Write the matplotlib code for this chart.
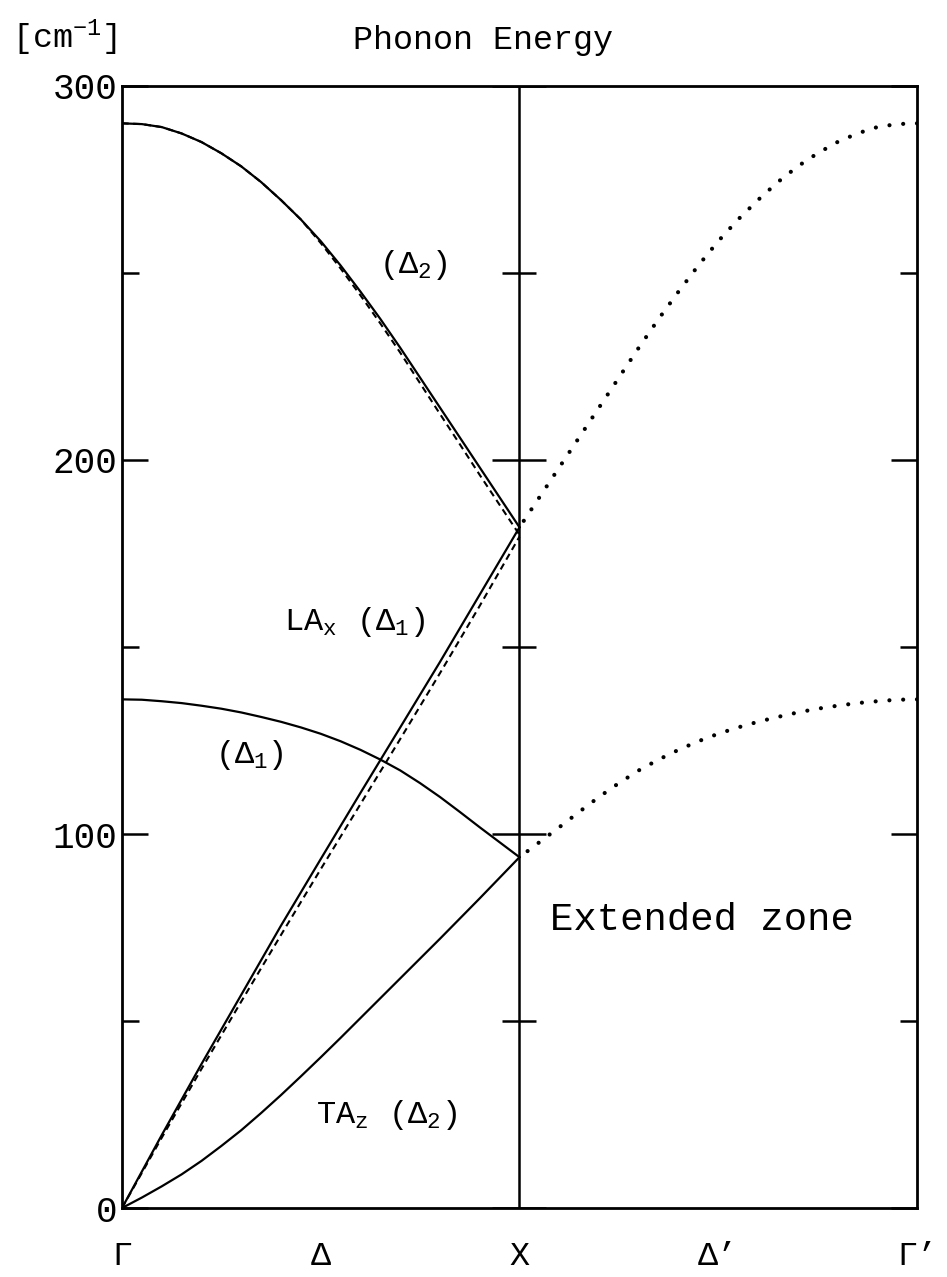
import matplotlib
matplotlib.use("Agg")
import matplotlib.pyplot as plt
import numpy as np

plt.rcParams['font.family'] = ['Liberation Mono', 'DejaVu Sans Mono']
plt.rcParams['mathtext.default'] = 'regular'

# reduced wave vector along Gamma -> X (0 .. 1)
q_fine = [0.0, 0.05, 0.1, 0.15, 0.2, 0.25, 0.3, 0.35, 0.4, 0.45, 0.5,
          0.55, 0.6, 0.65, 0.7, 0.75, 0.8, 0.85, 0.9, 0.95, 1.0]
q_coarse = [0.0, 0.1, 0.2, 0.3, 0.4, 0.5, 0.6, 0.7, 0.8, 0.9, 1.0]

# phonon energies in cm^-1
opt_d2 = [290, 289.8, 289, 287.3, 285, 282, 278.5, 274.3, 269.5, 264.3, 258.5,
          252, 245, 237.7, 230, 222, 214, 206, 198, 190, 182]
opt_d2_calc = [290, 289.8, 289, 287.3, 285, 282, 278.5, 274.3, 269.5, 264.3, 258,
               251.2, 244, 236.5, 228.7, 220.5, 212.3, 204.2, 196, 188, 180]
opt_d1 = [136, 135.9, 135.5, 135, 134.3, 133.5, 132.5, 131.3, 130, 128.5, 126.8,
          124.8, 122.5, 119.9, 117, 113.6, 109.9, 105.9, 101.8, 97.8, 93.8]
ta_z = [0, 2.8, 5.8, 9, 12.6, 16.6, 20.8, 25.4, 30.2, 35.2, 40.3,
        45.5, 50.8, 56.1, 61.4, 66.7, 72, 77.4, 82.8, 88.3, 93.8]
la_x = [0, 19.5, 38.5, 57, 75.5, 93.3, 111, 128.5, 146, 164, 182]
la_x_calc = [0, 18.8, 37.2, 55.2, 73, 90.6, 108, 125.4, 143, 161, 179.5]

xtick_pos = [0, 0.5, 1, 1.5, 2]
xtick_labels = ['Γ', 'Δ', 'X', 'Δ’', 'Γ’']
ytick_major = [0, 100, 200, 300]
ytick_minor = [50, 150, 250]

fig = plt.figure(figsize=(9.47, 12.77), dpi=100)
ax = fig.add_axes([0.1288, 0.054, 0.8395, 0.8787])

lw = 1.6
q = np.array(q_fine)
qc = np.array(q_coarse)
ax.plot(q, opt_d2, color='black', lw=lw)
ax.plot(q, opt_d2_calc, color='black', lw=1.5, dashes=(3.2, 2.2))
ax.plot(q, opt_d1, color='black', lw=lw)
ax.plot(q, ta_z, color='black', lw=lw)
ax.plot(qc, la_x, color='black', lw=lw)
ax.plot(qc, la_x_calc, color='black', lw=1.5, dashes=(3.2, 2.2))

# extended zone: branches folded back out from X to Gamma'
dot_kw = dict(color='black', lw=3.0, dashes=(0.01, 3.3), dash_capstyle='round')
ax.plot(2 - q, opt_d2, **dot_kw)
ax.plot(2 - q, opt_d1, **dot_kw)

# zone boundary line with its own ticks
ax.axvline(1, color='black', lw=1.8)
ax.plot([1] * len(ytick_major), ytick_major, ls='none', marker='_',
        markersize=39, mew=1.8, color='black')
ax.plot([1] * len(ytick_minor), ytick_minor, ls='none', marker='_',
        markersize=24, mew=1.8, color='black')

ax.set_xlim(0, 2)
ax.set_ylim(0, 300)
ax.set_xticks(xtick_pos)
ax.set_xticklabels(xtick_labels)
ax.set_yticks(ytick_major)
ax.set_yticks(ytick_minor, minor=True)
ax.tick_params(axis='x', length=0, pad=24, labelsize=24)
ax.tick_params(axis='y', which='both', direction='in', left=True, right=True,
               width=1.8, labelsize=26, pad=3)
ax.tick_params(axis='y', which='major', length=19)
ax.tick_params(axis='y', which='minor', length=12)
for s in ax.spines.values():
    s.set_linewidth(2.0)

lab = dict(fontsize=23, va='baseline')
ax.text(0.646, 250, '(Δ$_2$)', **lab)
ax.text(0.408, 154.5, 'LA$_x$ (Δ$_1$)', **lab)
ax.text(0.235, 119, '(Δ$_1$)', **lab)
ax.text(0.489, 22.7, 'TA$_z$ (Δ$_2$)', **lab)
ax.text(1.076, 74.3, 'Extended zone', fontsize=28, va='baseline')

fig.text(0.013, 0.962, '[cm$^{-1}$]', fontsize=24, va='baseline')
fig.text(0.373, 0.962, 'Phonon Energy', fontsize=24, va='baseline')

fig.savefig('out.png', dpi=100)
